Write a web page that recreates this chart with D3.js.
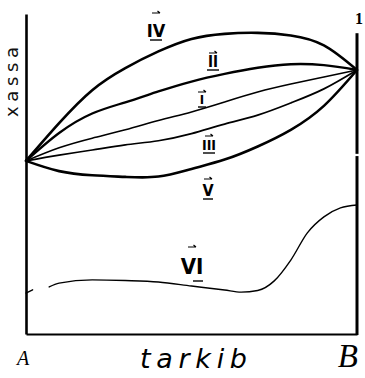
<!DOCTYPE html>
<html>
<head>
<meta charset="utf-8">
<script src="https://cdn.jsdelivr.net/npm/d3@7/dist/d3.min.js"></script>
<style>
  html, body { margin: 0; padding: 0; background: #fff; }
  svg { display: block; }
</style>
</head>
<body>
<svg id="chart" width="365" height="378"></svg>
<script>
// Composition axis (0 = pure A, 100 = pure B), property in arbitrary units
const composition = [0, 10, 20, 30, 40, 50, 60, 70, 80, 90, 100];

const curveIV  = [54.1, 65.9, 76.2, 83.1, 88.3, 92.2, 93.8, 94.1, 93.3, 90.2, 82.5];
const curveII  = [54.1, 62.8, 68.9, 72.4, 75.8, 78.9, 81.3, 83.2, 84.3, 84.0, 82.5];
const curveI   = [54.1, 58.2, 61.2, 63.8, 66.7, 69.4, 72.5, 75.6, 78.1, 80.3, 82.5];
const curveIII = [54.1, 55.9, 57.5, 59.1, 60.4, 62.6, 65.6, 68.4, 72.2, 76.6, 82.5];
const curveV   = [54.1, 50.9, 49.6, 49.1, 49.2, 51.6, 54.5, 58.6, 63.8, 71.3, 82.5];

// Curve VI: separate system, short stub at the axis, then the main trace
const compositionVI = [0, 2, 4, 7, 10, 20, 30, 40, 50, 60, 65, 70, 75, 80, 85, 90, 95, 100];
const curveVI       = [12.8, 13.8, null, 14.7, 15.9, 16.9, 16.7, 16.25, 15.0, 13.75, 13.1, 13.6, 16.6, 23.1, 31.6, 36.6, 39.4, 40.3];

const seriesNames = ["IV", "II", "I", "III", "V", "VI"];
const endLabels = ["A", "B"];
const xTitle = "tarkib";
const yTitle = "xassa";
const rightTopLabel = "1";

const svg = d3.select("#chart");
const x = d3.scaleLinear().domain([0, 100]).range([26, 357]);
const y = d3.scaleLinear().domain([0, 100]).range([334, 14]);

const lineFor = curve => d3.line()
  .defined(d => d[1] !== null)
  .x(d => x(d[0]))
  .y(d => y(d[1]))
  .curve(curve);

// Frame: left and bottom axes via d3-axis, right boundary line
svg.append("g")
  .attr("transform", `translate(${x(0)},0)`)
  .call(d3.axisLeft(y).tickValues([]).tickSizeOuter(0))
  .call(g => g.select(".domain").attr("stroke", "#000").attr("stroke-width", 2.6));

svg.append("g")
  .attr("transform", `translate(0,${y(0)})`)
  .call(d3.axisBottom(x).tickValues([]).tickSizeOuter(0))
  .call(g => g.select(".domain").attr("stroke", "#000").attr("stroke-width", 2.2));

// right boundary (pure B), with a small break in the stroke
svg.append("line")
  .attr("x1", x(100)).attr("x2", x(100))
  .attr("y1", y(94)).attr("y2", y(56.3))
  .attr("stroke", "#000").attr("stroke-width", 3);
svg.append("line")
  .attr("x1", x(100)).attr("x2", x(100))
  .attr("y1", y(55.6)).attr("y2", y(0) + 1)
  .attr("stroke", "#000").attr("stroke-width", 3);

const series = [
  { name: "IV",  xs: composition, ys: curveIV,  w: 2.6, curve: d3.curveNatural },
  { name: "II",  xs: composition, ys: curveII,  w: 2.3, curve: d3.curveNatural },
  { name: "I",   xs: composition, ys: curveI,   w: 1.6, curve: d3.curveNatural },
  { name: "III", xs: composition, ys: curveIII, w: 1.7, curve: d3.curveNatural },
  { name: "V",   xs: composition, ys: curveV,   w: 2.6, curve: d3.curveNatural },
  { name: "VI",  xs: compositionVI, ys: curveVI, w: 1.4, curve: d3.curveMonotoneX }
];

svg.append("g").selectAll("path")
  .data(series)
  .join("path")
  .attr("d", s => lineFor(s.curve)(s.xs.map((c, i) => [c, s.ys[i]])))
  .attr("fill", "none")
  .attr("stroke", "#000")
  .attr("stroke-width", s => s.w)
  .attr("stroke-linecap", "round")
  .attr("stroke-linejoin", "round");

// Series labels: numeral with a vector arrow above and an underline
const labelPos = {
  IV:  { cx: 156, base: 37,  size: 18, arrow: 13,  under: 40,  uw: 12 },
  II:  { cx: 213, base: 67,  size: 15, arrow: 53,  under: 70,  uw: 12 },
  I:   { cx: 202, base: 104, size: 13, arrow: 92,  under: 107, uw: 8 },
  III: { cx: 209, base: 150, size: 14, arrow: 136, under: 153, uw: 12 },
  V:   { cx: 208, base: 196, size: 16, arrow: 179, under: 199, uw: 10 },
  VI:  { cx: 192, base: 274, size: 22, arrow: 247, under: 281, uw: 10 }
};

const lab = svg.append("g").selectAll("g")
  .data(seriesNames)
  .join("g");

lab.append("text")
  .attr("x", n => labelPos[n].cx)
  .attr("y", n => labelPos[n].base)
  .attr("text-anchor", "middle")
  .attr("font-family", "DejaVu Sans Condensed, DejaVu Sans, sans-serif")
  .attr("font-weight", "bold")
  .attr("font-size", n => labelPos[n].size)
  .attr("fill", "#000")
  .text(n => n);

lab.append("path")
  .attr("d", n => {
    const p = labelPos[n];
    const x0 = p.cx - 4, x1 = p.cx + 4, yy = p.arrow;
    return `M${x0},${yy}L${x1},${yy}M${x1 - 2.5},${yy - 2}L${x1},${yy}`;
  })
  .attr("fill", "none").attr("stroke", "#000").attr("stroke-width", 1.2);

lab.append("line")
  .attr("x1", n => labelPos[n].cx - labelPos[n].uw / 2 + (n === "VI" ? 6 : 0))
  .attr("x2", n => labelPos[n].cx + labelPos[n].uw / 2 + (n === "VI" ? 6 : 0))
  .attr("y1", n => labelPos[n].under)
  .attr("y2", n => labelPos[n].under)
  .attr("stroke", "#000").attr("stroke-width", 1.4);

// End-member labels under the composition axis
svg.append("text")
  .attr("x", x(0) - 3).attr("y", 365)
  .attr("text-anchor", "middle")
  .attr("font-family", "Liberation Serif, serif")
  .attr("font-style", "italic")
  .attr("font-size", 20)
  .text(endLabels[0]);

svg.append("text")
  .attr("x", x(100) + 1).attr("y", 367)
  .attr("text-anchor", "end")
  .attr("font-family", "Liberation Serif, serif")
  .attr("font-style", "italic")
  .attr("font-size", 33)
  .text(endLabels[1]);

svg.append("text")
  .attr("x", 140).attr("y", 368)
  .attr("font-family", "DejaVu Sans, sans-serif")
  .attr("font-style", "italic")
  .attr("font-size", 27)
  .attr("textLength", 107)
  .attr("lengthAdjust", "spacing")
  .text(xTitle);

// Property axis title, reading bottom to top
svg.append("text")
  .attr("transform", "translate(18,82) rotate(-90)")
  .attr("text-anchor", "middle")
  .attr("font-family", "DejaVu Sans, sans-serif")
  .attr("font-size", 18)
  .attr("textLength", 70)
  .attr("lengthAdjust", "spacing")
  .attr("fill", "#111")
  .text(yTitle);

// Label at the top of the pure-B boundary
svg.append("text")
  .attr("x", x(100) + 2).attr("y", 24)
  .attr("text-anchor", "middle")
  .attr("font-family", "Liberation Serif, serif")
  .attr("font-weight", "bold")
  .attr("font-size", 16)
  .text(rightTopLabel);
</script>
</body>
</html>
